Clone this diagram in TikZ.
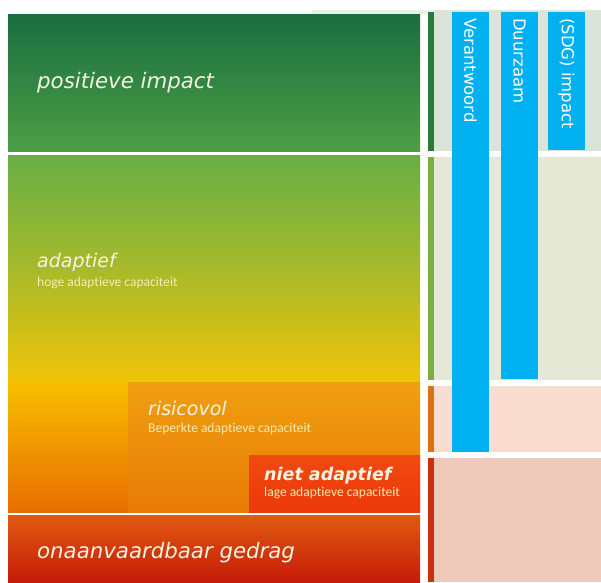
\documentclass[tikz,border=0pt]{standalone}
\usepackage{fontspec}
\setmainfont{DejaVu Sans}
\newfontfamily\smallfont[Ligatures=NoCommon]{Carlito}
\definecolor{dkgreen}{HTML}{1A6E40}
\definecolor{ltgreen}{HTML}{4C9E44}
\definecolor{midgreen}{HTML}{68AE45}
\definecolor{olive}{HTML}{A8BA2A}
\definecolor{yel}{HTML}{F0C408}
\definecolor{yelor}{HTML}{F7C000}
\definecolor{orA}{HTML}{EFA010}
\definecolor{orB}{HTML}{E97A06}
\definecolor{orC}{HTML}{E86E00}
\definecolor{redA}{HTML}{F04A10}
\definecolor{redB}{HTML}{EC380A}
\definecolor{botA}{HTML}{E05A10}
\definecolor{botB}{HTML}{C41C08}
\definecolor{barblue}{HTML}{00B0F0}
\definecolor{pgreen}{HTML}{DCE4DA}
\definecolor{pyel}{HTML}{E4E8D4}
\definecolor{ppeach}{HTML}{F8DDD0}
\definecolor{ppink}{HTML}{F0C9BD}
\definecolor{sgreen}{HTML}{2A7A3A}
\definecolor{sgreen2}{HTML}{7AB040}
\definecolor{sorange}{HTML}{E07010}
\definecolor{sred}{HTML}{C83010}
\definecolor{txt}{HTML}{F6F3E2}
\definecolor{smalltxt}{HTML}{F8EBB0}
\tikzset{
  bigtxt/.style={anchor=base west, inner sep=0pt, text=txt, font=\itshape\fontsize{21.3}{24}\selectfont},
  midtxt/.style={anchor=base west, inner sep=0pt, text=txt, font=\itshape\fontsize{19}{22}\selectfont},
  subtxt/.style={anchor=base west, inner sep=0pt, text=smalltxt, font=\smallfont\fontsize{13.5}{15}\selectfont},
  bartxt/.style={anchor=west, inner sep=0pt, text=white, rotate=-90, font=\fontsize{16.5}{18}\selectfont},
}
\begin{document}
\begin{tikzpicture}[x=1pt,y=-1pt]
\useasboundingbox (0,0) rectangle (601,582);
\fill[white] (0,0) rectangle (601,582);
% right panels
\fill[pgreen!60] (312,10) rectangle (601,14);
\fill[pgreen] (434,10) rectangle (601,151);
\fill[pyel] (434,157) rectangle (601,380);
\fill[ppeach] (434,386) rectangle (601,452);
\fill[ppink] (434,458) rectangle (601,582);
% thin side bars
\fill[sgreen] (428,12) rectangle (434,151);
\fill[sgreen2] (428,157) rectangle (434,380);
\fill[sorange] (428,386) rectangle (434,452);
\fill[sred] (428,458) rectangle (434,582);
% left blocks
\shade[top color=dkgreen, bottom color=ltgreen] (8,14) rectangle (420,151);
\shade[top color=midgreen, bottom color=olive] (8,155) rectangle (420,271);
\shade[top color=olive, bottom color=yel] (8,270) rectangle (420,382);
\shade[top color=yelor, bottom color=orC] (8,381.5) rectangle (128,512);
\shade[top color=orA, bottom color=orB] (128,382) rectangle (420,512);
\shade[top color=redA, bottom color=redB] (249,455) rectangle (420,512);
\shade[top color=botA, bottom color=botB] (8,515) rectangle (420,582);
% blue bars
\fill[barblue] (452,12) rectangle (489,452);
\fill[barblue] (501,12) rectangle (538,379);
\fill[barblue] (548,12) rectangle (585,150);
% texts
\node[bigtxt] (pos) at (37,88) {positieve impact};
\node[midtxt] (ada) at (37,267) {adaptief};
\node[subtxt] (adas) at (37,286) {hoge adaptieve capaciteit};
\node[midtxt] (ris) at (148,415) {risicovol};
\node[subtxt] (riss) at (148,432) {Beperkte adaptieve capaciteit};
\node[midtxt, font=\bfseries\itshape\fontsize{17.5}{20}\selectfont] (niet) at (264,480) {niet adaptief};
\node[subtxt] (niets) at (264,496) {lage adaptieve capaciteit};
\node[bigtxt] (ona) at (37,558) {onaanvaardbaar gedrag};
\node[bartxt] (v) at (470.5,18) {Verantwoord};
\node[bartxt] (d) at (519.5,18) {Duurzaam};
\node[bartxt] (s) at (566.5,18) {(SDG) impact};
\end{tikzpicture}
\end{document}
